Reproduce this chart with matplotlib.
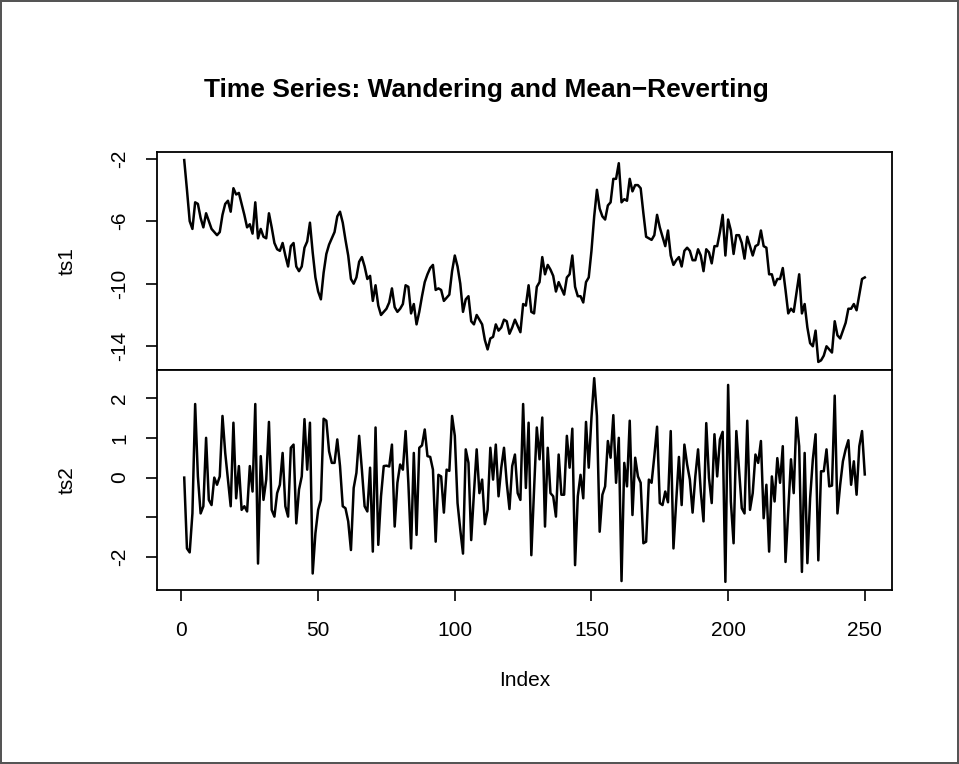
import numpy as np
import matplotlib
matplotlib.use("Agg")
import matplotlib.pyplot as plt

plt.rcParams['font.family'] = ['Liberation Sans', 'DejaVu Sans']

# wandering series (random walk)
ts1 = [
    -2.1, -4.0, -6.0, -6.5, -4.8, -4.9, -5.8, -6.4, -5.5, -6.0,
    -6.5, -6.7, -6.9, -6.7, -5.6, -4.9, -4.7, -5.4, -3.9, -4.3,
    -4.2, -4.9, -5.6, -6.4, -6.2, -6.8, -4.8, -7.1, -6.5, -7.0,
    -7.1, -5.5, -6.4, -7.4, -7.8, -7.9, -7.4, -8.2, -8.9, -7.6,
    -7.4, -8.9, -9.2, -8.9, -7.7, -7.3, -6.1, -8.0, -9.6, -10.5,
    -11.0, -9.3, -8.1, -7.5, -7.1, -6.7, -5.7, -5.4, -6.1, -7.2,
    -8.2, -9.7, -10.0, -9.6, -8.6, -8.3, -8.9, -9.7, -9.5, -11.1,
    -10.1, -11.4, -12.0, -11.8, -11.6, -11.2, -10.3, -11.5, -11.8, -11.6,
    -11.3, -10.1, -10.2, -11.9, -11.3, -12.6, -11.8, -10.8, -9.9, -9.4,
    -9.0, -8.8, -10.4, -10.3, -10.4, -11.1, -10.9, -10.7, -9.2, -8.2,
    -8.9, -10.0, -11.8, -11.0, -10.8, -12.4, -12.6, -12.0, -12.3, -12.6,
    -13.6, -14.2, -13.5, -13.4, -12.6, -13.0, -12.8, -12.3, -12.4, -13.2,
    -12.8, -12.3, -12.7, -13.1, -11.3, -11.4, -10.1, -11.8, -11.9, -10.2,
    -9.9, -8.3, -9.4, -8.8, -9.1, -9.5, -10.5, -9.9, -10.3, -10.7,
    -9.6, -9.4, -8.2, -10.2, -10.8, -10.8, -11.2, -9.9, -9.6, -7.9,
    -5.7, -4.0, -5.2, -5.7, -5.9, -5.0, -4.8, -3.3, -3.3, -2.3,
    -4.8, -4.6, -4.7, -3.3, -4.1, -3.7, -3.7, -3.9, -5.5, -7.0,
    -7.1, -7.2, -6.9, -5.6, -6.4, -7.0, -7.6, -6.6, -8.2, -8.8,
    -8.5, -8.3, -8.9, -7.9, -7.7, -7.9, -8.5, -8.5, -7.8, -8.2,
    -9.2, -7.8, -8.0, -8.7, -7.6, -7.6, -6.7, -5.6, -8.2, -5.9,
    -6.6, -8.1, -6.9, -6.9, -7.4, -8.4, -7.0, -7.6, -8.2, -7.6,
    -7.5, -6.6, -7.6, -7.7, -9.4, -9.4, -10.1, -9.7, -9.7, -9.0,
    -10.4, -11.9, -11.6, -11.8, -10.6, -9.4, -11.9, -11.3, -12.8, -13.8,
    -14.0, -13.0, -15.0, -14.9, -14.6, -14.0, -14.2, -14.4, -12.4, -13.3,
    -13.5, -13.0, -12.5, -11.6, -11.6, -11.3, -11.7, -10.7, -9.7, -9.6,
]

# mean-reverting series
ts2 = [
    0.0, -1.78, -1.88, -0.9, 1.85, 0.03, -0.9, -0.72, 1.0, -0.56,
    -0.69, 0.0, -0.18, 0.03, 1.55, 0.62, -0.05, -0.72, 1.38, -0.52,
    0.29, -0.81, -0.72, -0.85, 0.29, -0.35, 1.85, -2.16, 0.54, -0.56,
    -0.05, 1.4, -0.81, -0.98, -0.39, -0.18, 0.62, -0.72, -0.98, 0.75,
    0.83, -1.15, -0.3, 0.03, 1.47, 0.2, 1.38, -2.41, -1.4, -0.81,
    -0.56, 1.48, 1.43, 0.66, 0.37, 0.37, 0.96, 0.29, -0.72, -0.77,
    -1.1, -1.82, -0.26, 0.12, 1.05, 0.2, -0.72, -0.85, 0.25, -1.86,
    1.26, -1.69, -0.47, 0.29, 0.3, 0.28, 0.83, -1.23, -0.13, 0.33,
    0.2, 1.17, -0.13, -1.78, 0.62, -1.44, 0.75, 0.81, 1.21, 0.54,
    0.52, 0.2, -1.61, 0.07, 0.03, -0.88, 0.2, 0.17, 1.55, 1.05,
    -0.64, -1.31, -1.91, 0.71, 0.37, -1.57, -0.39, 0.71, -0.39, -0.05,
    -1.17, -0.81, 0.75, -0.05, 0.83, -0.47, 0.25, 0.75, -0.13, -0.79,
    0.29, 0.58, -0.39, -0.56, 1.85, -0.26, 1.38, -1.95, -0.3, 1.26,
    0.46, 1.51, -1.23, 0.75, -0.39, -0.47, -0.98, 0.58, -0.43, -0.43,
    1.05, 0.25, 1.23, -2.2, -0.47, 0.07, -0.52, 1.4, 0.25, 1.51,
    2.5, 1.55, -1.36, -0.43, -0.22, 0.92, 0.5, 1.57, -0.13, 1.0,
    -2.6, 0.37, -0.22, 1.43, -0.94, 0.5, 0.03, -0.13, -1.65, -1.61,
    -0.05, -0.13, 0.54, 1.28, -0.64, -0.69, -0.35, -0.62, 1.17, -1.78,
    -0.6, 0.52, -0.69, 0.83, 0.33, -0.05, -0.88, 0.03, 0.71, -0.35,
    -1.1, 1.37, -0.01, -0.64, 1.09, 0.03, 0.96, 1.15, -2.62, 2.33,
    -0.6, -1.65, 1.17, 0.2, -0.77, -0.9, 1.43, -0.81, -0.39, 0.58,
    0.37, 0.92, -1.02, -0.18, -1.86, 0.03, -0.6, 0.49, -0.13, 0.79,
    -2.12, -0.81, 0.46, -0.39, 1.51, 0.79, -2.37, 0.62, -2.15, -0.52,
    0.46, 1.09, -2.08, 0.16, 0.16, 0.71, -0.22, -0.2, 2.06, -0.9,
    -0.18, 0.41, 0.71, 0.94, -0.18, 0.41, -0.43, 0.79, 1.17, 0.08,
]

idx = np.arange(1, len(ts1) + 1)

ts1_ticks = [-2, -6, -10, -14]
ts2_ticks = [-2, -1, 0, 1, 2]
ts2_labels = ['-2', '', '0', '1', '2']
x_ticks = [0, 50, 100, 150, 200, 250]

fig = plt.figure(figsize=(9.59, 7.64), dpi=100)
fig.patch.set_edgecolor('#555555')
fig.patch.set_linewidth(1.5)

left, right = 157 / 959, 892 / 959
ax1 = fig.add_axes([left, 1 - 370 / 764, right - left, (370 - 152) / 764])
ax2 = fig.add_axes([left, 1 - 590 / 764, right - left, (590 - 370) / 764], sharex=ax1)

for ax, series, ylab in [(ax1, ts1, 'ts1'), (ax2, ts2, 'ts2')]:
    ax.plot(idx, series, color='black', lw=1.8)
    ax.margins(x=0.04, y=0.04)
    ax.set_ylabel(ylab, fontsize=15, labelpad=24)
    for s in ax.spines.values():
        s.set_linewidth(1.3)
    ax.tick_params(axis='y', length=8, width=1.2, labelsize=15, pad=12)

ax1.set_yticks(ts1_ticks)
ax1.set_yticklabels([str(t) for t in ts1_ticks], rotation=90, va='center')
ax2.set_yticks(ts2_ticks)
ax2.set_yticklabels(ts2_labels, rotation=90, va='center')

ax1.tick_params(axis='x', bottom=False, labelbottom=False)
ax2.set_xticks(x_ticks)
ax2.tick_params(axis='x', length=8, width=1.2, labelsize=15, pad=14)
ax2.set_xlabel('Index', fontsize=15, labelpad=23)

fig.text(0.507, 1 - 90 / 764, 'Time Series: Wandering and Mean\u2212Reverting',
         ha='center', va='center', fontsize=19, fontweight='bold')

fig.savefig('out.png', dpi=100)
